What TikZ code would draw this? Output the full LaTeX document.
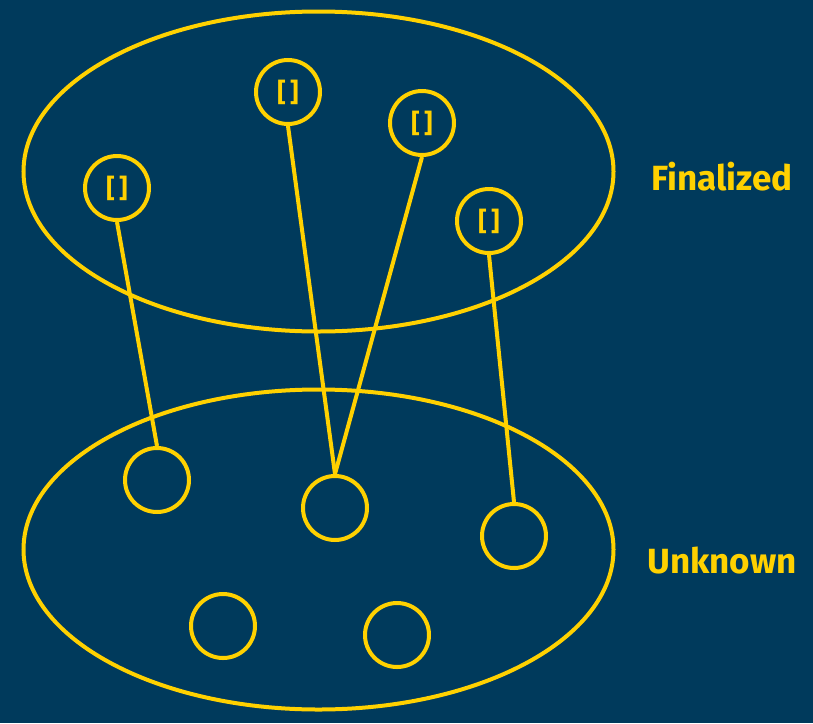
\documentclass[tikz,border=0pt]{standalone}
\usepackage{fontspec}
\setmainfont{Fira Sans}
\usetikzlibrary{shapes.geometric}
\definecolor{bg}{HTML}{003A5C}
\definecolor{gold}{HTML}{FFD100}
\tikzset{
  set/.style={draw=gold, line width=4pt, ellipse, minimum width=590pt, minimum height=320pt, inner sep=0pt},
  elem/.style={draw=gold, line width=4pt, circle, minimum size=64pt, inner sep=0pt, text=gold, font=\bfseries\fontsize{26pt}{28pt}\selectfont},
  link/.style={draw=gold, line width=4pt},
  lbl/.style={text=gold, font=\bfseries\fontsize{35pt}{38pt}\selectfont}
}
\begin{document}
\begin{tikzpicture}[x=1pt,y=-1pt]
\fill[bg] (0,0) rectangle (813,723);
\useasboundingbox (0,0) rectangle (813,723);
\node[set] (fin) at (318.5,171.5) {};
\node[set] (unk) at (318.5,549.5) {};
\node[elem] (f1) at (117,188) {[\,]};
\node[elem] (f2) at (288,92) {[\,]};
\node[elem] (f3) at (422,123) {[\,]};
\node[elem] (f4) at (489,221) {[\,]};
\node[elem] (u1) at (157,480) {};
\node[elem] (u2) at (335,508) {};
\node[elem] (u3) at (514,536) {};
\node[elem] (u4) at (223,626) {};
\node[elem] (u5) at (397,635) {};
\draw[link] (f1.south) -- (u1.north);
\draw[link] (f2.south) -- (u2.north);
\draw[link] (f3.south) -- (u2.north);
\draw[link] (f4.south) -- (u3.north);
\node[lbl] (lf) at (722,177) {Finalized};
\node[lbl] (lu) at (722,561) {Unknown};
\end{tikzpicture}
\end{document}
